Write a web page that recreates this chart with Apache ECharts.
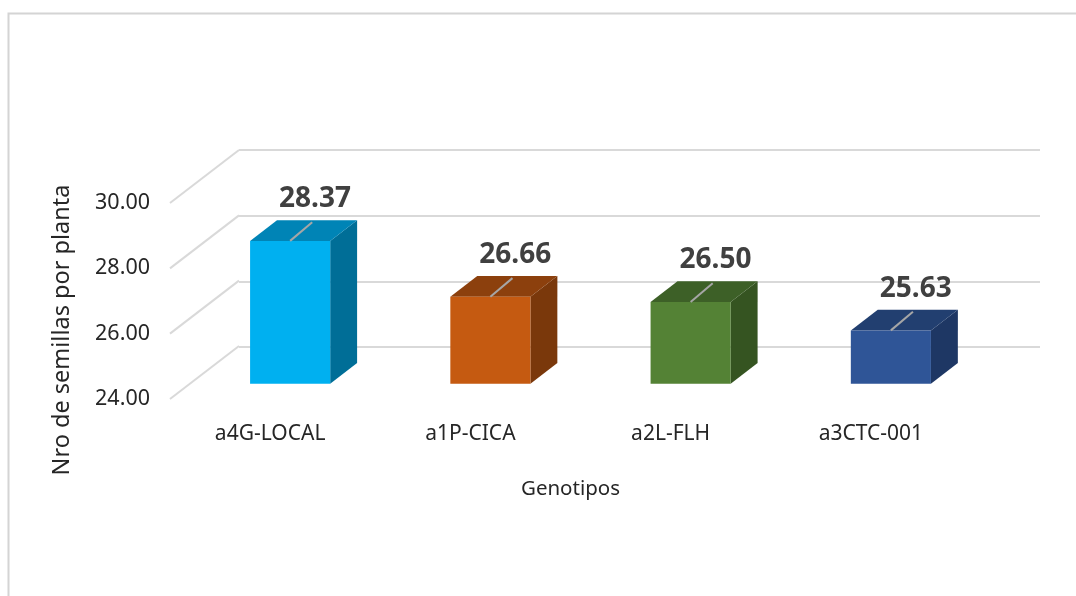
<!DOCTYPE html>
<html>
<head>
<meta charset="utf-8">
<script src="https://cdn.jsdelivr.net/npm/echarts@6/dist/echarts.min.js"></script>
<style>
  html, body { margin: 0; padding: 0; background: #fff; }
  #chart { width: 1076px; height: 596px; }
</style>
</head>
<body>
<div id="chart"></div>
<script>
// datos
var genotipos = ['a4G-LOCAL', 'a1P-CICA', 'a2L-FLH', 'a3CTC-001'];
var semillas = [28.37, 26.66, 26.50, 25.63];
var ticks = [24, 26, 28, 30];

// colores: cara frontal, superior, lateral
var frontColors = ['#00B0F0', '#C55A11', '#548235', '#2F5597'];
var topColors = ['#0084B6', '#8C400D', '#3D6027', '#223F70'];
var sideColors = ['#006E97', '#7A380B', '#355421', '#1E3764'];

var DEPTH = [69, -53];     // profundidad del piso (px)
var BAR_OFF = 0.29;        // donde empieza la barra dentro de la profundidad
var BAR_DEPTH = 0.39;      // grosor de la barra
var font = '"Noto Sans", "Open Sans", sans-serif';

var chart = echarts.init(document.getElementById('chart'));

var option = {
    animation: false,
    backgroundColor: '#fff',
    textStyle: { fontFamily: font },
    grid: [
        { left: 170, right: 105, top: 203, bottom: 197 },
        { left: 239, right: 36, top: 150, bottom: 249 }
    ],
    xAxis: [
        {
            type: 'category',
            gridIndex: 0,
            data: genotipos,
            axisLine: { show: false },
            axisTick: { show: false },
            axisLabel: { color: '#262626', fontSize: 21, margin: 25, fontFamily: font },
            name: 'Genotipos',
            nameLocation: 'middle',
            nameGap: 80,
            nameTextStyle: { color: '#262626', fontSize: 20.5, fontFamily: font }
        },
        {
            type: 'category',
            gridIndex: 1,
            data: genotipos,
            show: false
        }
    ],
    yAxis: [
        {
            type: 'value',
            gridIndex: 0,
            min: 24,
            max: 30,
            interval: 2,
            axisLine: { show: false },
            axisTick: { show: false },
            splitLine: { show: false },
            axisLabel: {
                color: '#262626', fontSize: 21.5, margin: 20, fontFamily: font,
                formatter: function (v) { return v.toFixed(2); }
            }
        },
        {
            type: 'value',
            gridIndex: 1,
            min: 24,
            max: 30,
            interval: 2,
            axisLine: { show: false },
            axisTick: { show: false },
            axisLabel: { show: false },
            splitLine: { lineStyle: { color: '#d9d9d9', width: 2 } }
        }
    ],
    graphic: [
        {
            type: 'rect',
            shape: { x: 8.5, y: 13.5, width: 1200, height: 800 },
            style: { fill: 'none', stroke: '#d4d4d4', lineWidth: 2 },
            silent: true
        },
        {
            type: 'text',
            x: 62,
            y: 330,
            rotation: Math.PI / 2,
            style: {
                text: 'Nro de semillas por planta',
                fill: '#262626',
                font: '23.5px ' + font,
                align: 'center',
                verticalAlign: 'middle'
            }
        }
    ],
    series: [
        {
            // lineas diagonales de la pared lateral
            type: 'custom',
            xAxisIndex: 0,
            yAxisIndex: 0,
            data: ticks.map(function (t) { return [0, t]; }),
            z: 1,
            renderItem: function (params, api) {
                var p = api.coord([0, api.value(1)]);
                var x = params.coordSys.x;
                return {
                    type: 'line',
                    shape: { x1: x, y1: p[1], x2: x + DEPTH[0], y2: p[1] + DEPTH[1] },
                    style: { stroke: '#d9d9d9', lineWidth: 2 }
                };
            }
        },
        {
            type: 'custom',
            xAxisIndex: 0,
            yAxisIndex: 0,
            data: semillas.map(function (v, i) { return [i, v]; }),
            z: 5,
            renderItem: function (params, api) {
                var i = api.value(0);
                var v = api.value(1);
                var base = api.coord([i, 24]);
                var top = api.coord([i, v]);
                var band = api.size([1, 0])[0];
                var w = band * 0.4;
                var ox = DEPTH[0] * BAR_OFF, oy = DEPTH[1] * BAR_OFF;
                var dx = DEPTH[0] * BAR_DEPTH, dy = DEPTH[1] * BAR_DEPTH;
                var x0 = base[0] - w / 2 + ox;
                var yB = base[1] + oy;
                var yT = top[1] + oy;
                var cx = x0 + w / 2;
                return {
                    type: 'group',
                    children: [
                        {
                            type: 'polygon',
                            shape: { points: [[x0 + w, yT], [x0 + w, yB], [x0 + w + dx, yB + dy], [x0 + w + dx, yT + dy]] },
                            style: { fill: sideColors[i] }
                        },
                        {
                            type: 'polygon',
                            shape: { points: [[x0, yT], [x0 + w, yT], [x0 + w + dx, yT + dy], [x0 + dx, yT + dy]] },
                            style: { fill: topColors[i] }
                        },
                        {
                            type: 'rect',
                            shape: { x: x0, y: yT, width: w, height: yB - yT },
                            style: { fill: frontColors[i] }
                        },
                        {
                            type: 'line',
                            shape: { x1: cx, y1: yT, x2: cx + dx * 0.82, y2: yT + dy * 0.9 },
                            style: { stroke: '#a6a6a6', lineWidth: 2 }
                        },
                        {
                            type: 'text',
                            x: cx + dx - 2,
                            y: yT + dy - 21,
                            style: {
                                text: v.toFixed(2),
                                fill: '#404040',
                                font: 'bold 28px ' + font,
                                align: 'center',
                                verticalAlign: 'middle'
                            }
                        }
                    ]
                };
            }
        }
    ]
};

chart.setOption(option);
</script>
</body>
</html>
